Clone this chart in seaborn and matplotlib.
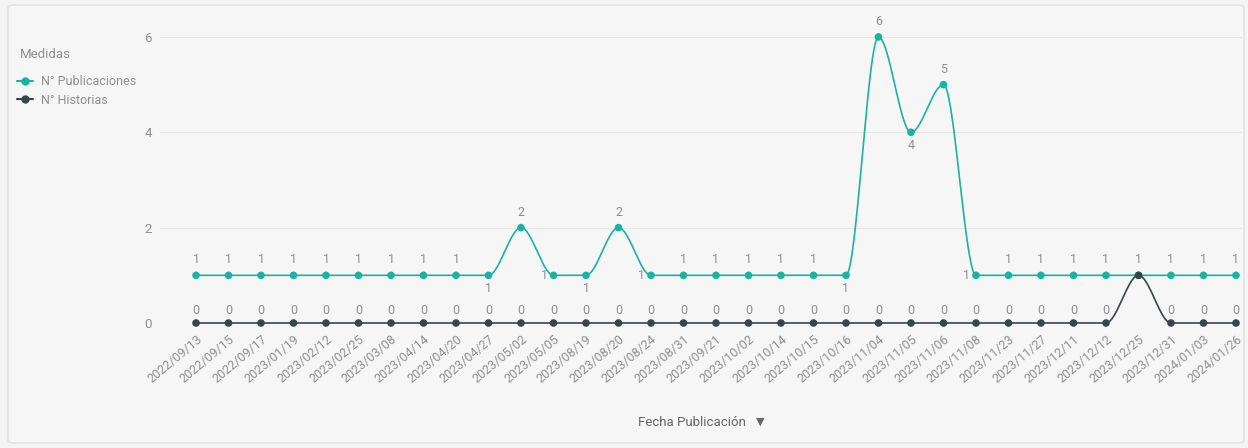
import numpy as np
import pandas as pd
import matplotlib
matplotlib.use("Agg")
import matplotlib.pyplot as plt
import seaborn as sns
from matplotlib.patches import FancyBboxPatch
from matplotlib.lines import Line2D

fechas = ["2022/09/13", "2022/09/15", "2022/09/17", "2023/01/19", "2023/02/12", "2023/02/25",
          "2023/03/08", "2023/04/14", "2023/04/20", "2023/04/27", "2023/05/02", "2023/05/05",
          "2023/08/19", "2023/08/20", "2023/08/24", "2023/08/31", "2023/09/21", "2023/10/02",
          "2023/10/14", "2023/10/15", "2023/10/16", "2023/11/04", "2023/11/05", "2023/11/06",
          "2023/11/08", "2023/11/23", "2023/11/27", "2023/12/11", "2023/12/12", "2023/12/25",
          "2023/12/31", "2024/01/03", "2024/01/26"]
publicaciones = [1, 1, 1, 1, 1, 1, 1, 1, 1, 1, 2, 1, 1, 2, 1, 1, 1, 1, 1, 1, 1, 6, 4, 5,
                 1, 1, 1, 1, 1, 1, 1, 1, 1]
historias = [0, 0, 0, 0, 0, 0, 0, 0, 0, 0, 0, 0, 0, 0, 0, 0, 0, 0, 0, 0, 0, 0, 0, 0,
             0, 0, 0, 0, 0, 1, 0, 0, 0]
series_names = ["N° Publicaciones", "N° Historias"]
y_ticks = [0, 2, 4, 6]

# label placement for publicaciones (a = above, b = below, l = left)
pub_place = list("aaaaaaaaab" "alba" "laaaaab" "aba" "l" "aaaaaaaa")

TEAL = "#19b3a4"
DARK = "#374649"
GRAY = "#8f8f8f"
BG = "#f4f4f4"

sns.set_theme(style="white")
plt.rcParams["font.family"] = ["Roboto", "DejaVu Sans"]


def monotone(x, y, xs):
    x = np.asarray(x, float); y = np.asarray(y, float)
    h = np.diff(x); d = np.diff(y) / h
    m = np.zeros_like(y)
    m[0], m[-1] = d[0], d[-1]
    for k in range(1, len(x) - 1):
        if d[k - 1] * d[k] <= 0:
            m[k] = 0
        else:
            w1 = 2 * h[k] + h[k - 1]; w2 = h[k] + 2 * h[k - 1]
            m[k] = (w1 + w2) / (w1 / d[k - 1] + w2 / d[k])
    idx = np.clip(np.searchsorted(x, xs) - 1, 0, len(x) - 2)
    t = (xs - x[idx]) / h[idx]
    h00 = 2 * t**3 - 3 * t**2 + 1; h10 = t**3 - 2 * t**2 + t
    h01 = -2 * t**3 + 3 * t**2; h11 = t**3 - t**2
    return h00 * y[idx] + h10 * h[idx] * m[idx] + h01 * y[idx + 1] + h11 * h[idx] * m[idx + 1]


xpos = np.arange(len(fechas))
xs = np.linspace(0, len(fechas) - 1, 2000)

W, H = 1248, 448
fig = plt.figure(figsize=(W / 100, H / 100), dpi=100, facecolor=BG)
fig.patches.append(FancyBboxPatch((8 / W, 5 / H), 1236 / W, 438 / H,
                                  boxstyle="round,pad=0,rounding_size=0.006",
                                  transform=fig.transFigure, facecolor="#f6f6f6",
                                  edgecolor="#dedede", linewidth=1, zorder=-1))

ax = fig.add_axes([160 / W, (448 - 323) / H, (1242 - 160) / W, (323 - 27.4) / H])
ax.set_facecolor("none")

dense = pd.DataFrame({
    "x": np.concatenate([xs, xs]),
    "y": np.concatenate([monotone(xpos, publicaciones, xs), monotone(xpos, historias, xs)]),
    "serie": [series_names[0]] * len(xs) + [series_names[1]] * len(xs),
})
pts = pd.DataFrame({
    "x": np.concatenate([xpos, xpos]),
    "y": publicaciones + historias,
    "serie": [series_names[0]] * len(xpos) + [series_names[1]] * len(xpos),
})
pal = {series_names[0]: TEAL, series_names[1]: DARK}

sns.lineplot(data=dense, x="x", y="y", hue="serie", palette=pal, linewidth=1.2,
             ax=ax, legend=False, clip_on=False, zorder=3)
sns.scatterplot(data=pts, x="x", y="y", hue="serie", palette=pal, s=30, linewidth=0,
                ax=ax, legend=False, clip_on=False, zorder=4)

ax.set_xlim(-1.108, 32.185)
ax.set_ylim(0, 6.2)
ax.set_yticks(y_ticks)
ax.set_yticklabels([str(v) for v in y_ticks])
ax.set_xticks(xpos)
ax.set_xticklabels(fechas, rotation=40, ha="right", rotation_mode="anchor")
ax.tick_params(axis="x", length=0, pad=7, labelsize=9, labelcolor=GRAY)
ax.tick_params(axis="y", length=0, pad=6, labelsize=9.5, labelcolor=GRAY)
ax.grid(axis="y", color="#e6e6e6", linewidth=0.8)
ax.set_axisbelow(True)
for s in ax.spines.values():
    s.set_visible(False)
ax.set_xlabel(""); ax.set_ylabel("")

# data labels
for i, (v, p) in enumerate(zip(publicaciones, pub_place)):
    if p == "a":
        off, ha, va = (0, 9), "center", "bottom"
    elif p == "b":
        off, ha, va = (0, -7), "center", "top"
    else:
        off, ha, va = (-6, 0), "right", "center"
    ax.annotate(str(v), (i, v), xytext=off, textcoords="offset pixels",
                ha=ha, va=va, fontsize=9, color=GRAY, zorder=5)
for i, v in enumerate(historias):
    if v == publicaciones[i]:
        continue
    ax.annotate(str(v), (i, v), xytext=(0, 6), textcoords="offset pixels",
                ha="center", va="bottom", fontsize=9, color=GRAY, zorder=5)

# legend
fig.text(20 / W, 1 - 55 / H, "Medidas", fontsize=9.5, color=GRAY, va="center", ha="left")
handles = [Line2D([0], [0], color=TEAL, marker="o", markersize=5, linewidth=1.5),
           Line2D([0], [0], color=DARK, marker="o", markersize=5, linewidth=1.5)]
fig.legend(handles, series_names, loc="upper left", bbox_to_anchor=(12 / W, 1 - 70 / H),
           frameon=False, fontsize=9, labelcolor=GRAY, handlelength=1.3,
           handletextpad=0.6, labelspacing=0.45, borderaxespad=0)

fig.text(746 / W, 1 - 422 / H, "Fecha Publicación", fontsize=9.5, color="#666666",
         ha="right", va="center")
fig.text(760 / W, 1 - 422 / H, "▼", fontsize=8, color="#666666", ha="center", va="center",
         family=["DejaVu Sans"])

fig.savefig("out.png", dpi=100, facecolor=BG)
